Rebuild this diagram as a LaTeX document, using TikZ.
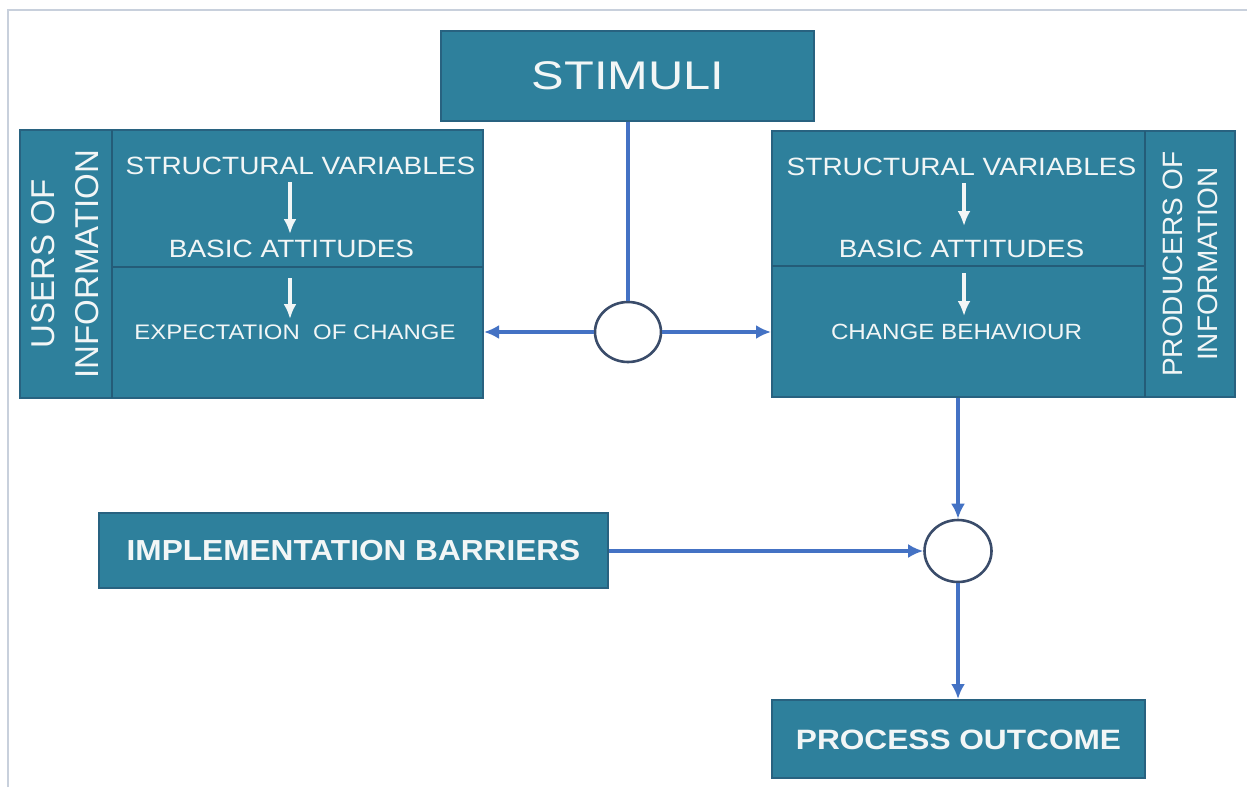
\documentclass[tikz,border=0pt]{standalone}
\usepackage{fontspec}
\usepackage{graphicx}
\setmainfont{Liberation Sans}
\usetikzlibrary{shapes.geometric,arrows.meta}
\definecolor{boxfill}{RGB}{46,128,156}
\definecolor{boxline}{RGB}{40,98,128}
\definecolor{divline}{RGB}{36,92,120}
\definecolor{arrowblue}{RGB}{68,114,196}
\definecolor{ringline}{RGB}{58,76,106}
\definecolor{framegray}{RGB}{200,208,220}
\definecolor{txtwhite}{RGB}{242,246,246}
\newcommand{\hs}[2]{\scalebox{#1}[1]{#2}}
\tikzset{
  tealbox/.style={draw=boxline, line width=2pt, fill=boxfill, inner sep=0pt, anchor=center},
  boxtext/.style={text=txtwhite, inner sep=0pt, anchor=center},
  ring/.style={ellipse, draw=ringline, line width=2.6pt, fill=white, inner sep=0pt},
  blueline/.style={draw=arrowblue, line width=3.6pt},
  bluearrow/.style={blueline, -{Latex[length=15pt,width=14pt]}},
  whitearrow/.style={draw=txtwhite, line width=4pt, -{Latex[length=15pt,width=13pt]}},
  divider/.style={draw=divline, line width=2.4pt},
}
\begin{document}
\begin{tikzpicture}[x=1pt,y=-1pt]
\useasboundingbox (0,0) rectangle (1247,787);
\fill[white] (0,0) rectangle (1247,787);
% frame
\coordinate (fTL) at (8,10);
\coordinate (fTR) at (1247,10);
\coordinate (fBL) at (8,787);
\draw[framegray, line width=2pt] (fBL) -- (fTL) -- (fTR);

% boxes
\node[tealbox, minimum width=373pt, minimum height=90pt] (stim) at (627.5,75.5) {};
\node[boxtext, font=\fontsize{40}{40}\selectfont] at (628,76) {\hs{1.22}{STIMULI}};

\node[tealbox, minimum width=463pt, minimum height=268pt] (lbox) at (251.5,264) {};
\node[tealbox, minimum width=463pt, minimum height=266pt] (rbox) at (1003.5,264) {};

\node[tealbox, minimum width=509pt, minimum height=75pt] (imp) at (353.5,550.5) {};
\node[boxtext, font=\bfseries\fontsize{29}{29}\selectfont] at (353.5,551) {\hs{1.09}{IMPLEMENTATION BARRIERS}};

\node[tealbox, minimum width=373pt, minimum height=78pt] (proc) at (958.5,739) {};
\node[boxtext, font=\bfseries\fontsize{28}{28}\selectfont] at (958.5,740) {\hs{1.13}{PROCESS OUTCOME}};

% dividers
\coordinate (lv1) at (112,130);
\coordinate (lv2) at (112,398);
\coordinate (lh1) at (112,267);
\coordinate (lh2) at (483,267);
\draw[divider] (lv1) -- (lv2);
\draw[divider] (lh1) -- (lh2);
\coordinate (rv1) at (1145,131);
\coordinate (rv2) at (1145,397);
\coordinate (rh1) at (772,266);
\coordinate (rh2) at (1145,266);
\draw[divider] (rv1) -- (rv2);
\draw[divider] (rh1) -- (rh2);

% left texts
\node[boxtext, font=\fontsize{25}{25}\selectfont] (lsv) at (300.5,166) {\hs{1.12}{STRUCTURAL VARIABLES}};
\node[boxtext, font=\fontsize{25}{25}\selectfont] (lba) at (291.5,249) {\hs{1.12}{BASIC ATTITUDES}};
\node[boxtext, font=\fontsize{21}{21}\selectfont] (lec) at (295,332) {\hs{1.14}{EXPECTATION\ \ OF CHANGE}};
\node[boxtext, rotate=90, align=center, font=\fontsize{33}{44}\selectfont] (lusers) at (65,264) {USERS OF\\INFORMATION};

% right texts
\node[boxtext, font=\fontsize{25}{25}\selectfont] (rsv) at (961.5,167) {\hs{1.12}{STRUCTURAL VARIABLES}};
\node[boxtext, font=\fontsize{25}{25}\selectfont] (rba) at (961.5,249) {\hs{1.12}{BASIC ATTITUDES}};
\node[boxtext, font=\fontsize{22}{22}\selectfont] (rcb) at (956.5,332) {\hs{1.1}{CHANGE BEHAVIOUR}};
\node[boxtext, rotate=90, align=center, font=\fontsize{28}{35}\selectfont] (rprod) at (1190,264) {PRODUCERS OF\\INFORMATION};

% white arrows
\coordinate (la1s) at (290,182);
\coordinate (la1e) at (290,234);
\coordinate (la2s) at (290,278);
\coordinate (la2e) at (290,319);
\coordinate (ra1s) at (964,183);
\coordinate (ra1e) at (964,226);
\coordinate (ra2s) at (964,273);
\coordinate (ra2e) at (964,316);
\draw[whitearrow] (la1s) -- (la1e);
\draw[whitearrow] (la2s) -- (la2e);
\draw[whitearrow] (ra1s) -- (ra1e);
\draw[whitearrow] (ra2s) -- (ra2e);

% circles
\node[ring, minimum width=66pt, minimum height=60pt] (c1) at (628,332) {};
\node[ring, minimum width=67pt, minimum height=62pt] (c2) at (958,551) {};

% connectors
\draw[blueline] (stim.south -| c1.north) -- (c1.north);
\draw[bluearrow] (c1.west) -- (c1.west -| lbox.east);
\draw[bluearrow] (c1.east) -- (c1.east -| rbox.west);
\draw[bluearrow] (c2.north |- rbox.south) -- (c2.north);
\draw[bluearrow] (imp.east |- c2.west) -- (c2.west);
\draw[bluearrow] (c2.south) -- (c2.south |- proc.north);
\end{tikzpicture}
\end{document}
